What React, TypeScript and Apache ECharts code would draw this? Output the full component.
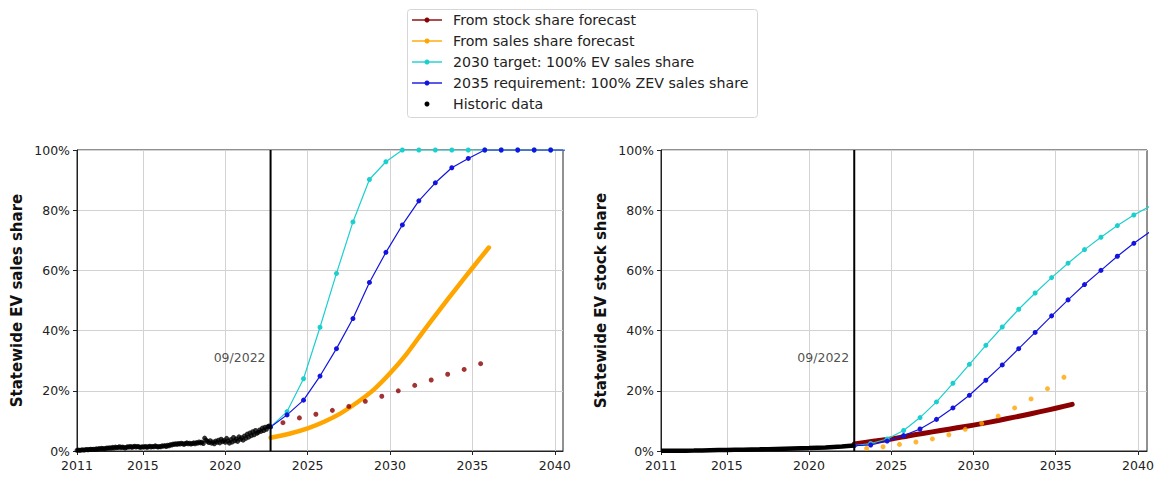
import React, { useEffect, useRef } from "react";
import * as echarts from "echarts";

// ---- Shared axis ticks ----
const xTicks = [2011, 2015, 2020, 2025, 2030, 2035, 2040];
const cutoffYear = 2022.75;
const cutoffLabel = "09/2022";

// ---- Historic monthly EV sales share (Jan 2011 – Sep 2022), % ----
const salesHistoric = [
  0.2, 0.3, 0.2, 0.3, 0.4, 0.3, 0.4, 0.5, 0.4, 0.5, 0.6, 0.5,
  0.6, 0.5, 0.7, 0.6, 0.8, 0.7, 0.9, 0.8, 0.7, 0.9, 1.0, 0.9,
  1.1, 0.9, 1.2, 1.0, 1.3, 1.1, 1.2, 1.4, 1.1, 1.3, 1.2, 1.0,
  1.2, 1.4, 1.3, 1.5, 1.2, 1.4, 1.6, 1.3, 1.5, 1.4, 1.2, 1.3,
  1.4, 1.3, 1.5, 1.2, 1.4, 1.6, 1.3, 1.5, 1.4, 1.7, 1.5, 1.3,
  1.5, 1.4, 1.7, 1.6, 1.8, 1.5, 1.9, 1.7, 2.1, 2.0, 2.3, 2.2,
  2.4, 2.2, 2.5, 2.3, 2.6, 2.4, 2.2, 2.5, 2.7, 2.4, 2.6, 2.3,
  2.5, 2.7, 2.4, 2.8, 2.6, 3.0, 2.7, 2.9, 2.5, 4.3, 3.6, 3.2,
  2.8, 3.4, 2.6, 3.0, 2.4, 3.3, 2.9, 3.6, 2.7, 3.9, 3.1, 3.5,
  2.9, 4.2, 3.3, 2.6, 3.8, 3.0, 4.5, 3.4, 4.0, 3.2, 4.7, 3.9,
  4.4, 3.6, 5.0, 4.2, 5.6, 4.6, 6.0, 5.1, 6.4, 5.4, 6.8, 5.9,
  6.2, 7.0, 6.5, 7.6, 6.8, 7.9, 7.2, 8.1, 8.3,
];

// ---- Historic EV stock share, % ----
const stockHistoricYears = [2011, 2012, 2013, 2014, 2015, 2016, 2017, 2018, 2019, 2020, 2021, 2022, 2022.75];
const stockHistoric = [0.05, 0.1, 0.15, 0.25, 0.35, 0.45, 0.55, 0.7, 0.85, 1.0, 1.2, 1.5, 1.8];

// ---- Scenario years ----
const scenarioYears = [
  2022.75, 2023.75, 2024.75, 2025.75, 2026.75, 2027.75, 2028.75, 2029.75, 2030.75, 2031.75,
  2032.75, 2033.75, 2034.75, 2035.75, 2036.75, 2037.75, 2038.75, 2039.75, 2040.75,
];
const dotYears = [2023.5, 2024.5, 2025.5, 2026.5, 2027.5, 2028.5, 2029.5, 2030.5, 2031.5, 2032.5, 2033.5, 2034.5, 2035.5];
const curveYears = [2022.75, 2024, 2025, 2026, 2027, 2028, 2029, 2030, 2031, 2032, 2033, 2034, 2035, 2036];

// ---- Sales share panel, % ----
const salesTarget2030 = [8, 13.1, 24, 41.1, 59, 76.1, 90.2, 96.1, 100, 100, 100, 100, 100, 100, 100, 100, 100, 100, 100];
const salesReq2035 = [8, 12, 16.9, 24.9, 34, 44, 56, 66, 75.1, 83.1, 89.1, 94.1, 97.2, 100, 100, 100, 100, 100, 100];
const salesFromStock = [9.4, 11.0, 12.2, 13.5, 14.8, 16.5, 18.2, 20, 21.8, 23.6, 25.5, 27.1, 29.0];
const salesFromSales = [4.4, 5.9, 7.5, 9.7, 12.5, 16.1, 20.3, 25.8, 32.2, 39.6, 46.8, 53.9, 60.8, 67.6];

// ---- Stock share panel, % ----
const stockTarget2030 = [1.8, 2.5, 4.0, 6.8, 11.1, 16.3, 22.5, 28.8, 35.1, 41.2, 47.1, 52.5, 57.6, 62.4, 66.9, 71, 74.9, 78.4, 81.4];
const stockReq2035 = [1.8, 2.0, 3.3, 5.1, 7.3, 10.5, 14.3, 18.5, 23.5, 28.6, 34, 39.4, 44.9, 50.2, 55.3, 60, 64.7, 69, 72.9];
const stockFromSales = [0.9, 1.4, 2.2, 3.0, 4.0, 5.4, 7.2, 9.2, 11.6, 14.3, 17.3, 20.7, 24.5];
const stockFromStock = [2.3, 3.3, 4.0, 5.0, 5.9, 6.8, 7.7, 8.6, 9.6, 10.7, 11.8, 13.0, 14.2, 15.5];

const legendItems = [
  { name: "From stock share forecast", color: "#8b0000", line: true },
  { name: "From sales share forecast", color: "#ffa500", line: true },
  { name: "2030 target: 100% EV sales share", color: "#1ccfcf", line: true },
  { name: "2035 requirement: 100% ZEV sales share", color: "#1414e0", line: true },
  { name: "Historic data", color: "#000000", line: false },
];

const FONT = "DejaVu Sans";
const INK = "#222";
const COLORS = { stock: "#8b0000", sales: "#ffa500", target: "#1ccfcf", req: "#1414e0" };

const pairs = (xs: number[], ys: number[]) => ys.map((y, i) => [xs[i], y]);

function makeXAxis(gridIndex: number, max: number) {
  return {
    type: "value",
    gridIndex,
    min: 2011,
    max,
    axisLine: { show: true, lineStyle: { color: INK, width: 1 } },
    axisTick: { show: true, customValues: xTicks, length: 4, lineStyle: { color: INK } },
    axisLabel: {
      customValues: xTicks,
      fontSize: 12.5,
      fontFamily: FONT,
      color: INK,
      margin: 8,
      formatter: (v: number) => String(v),
    },
    splitLine: { show: true, lineStyle: { color: "#d2d2d2", width: 1 } },
  };
}

function makeYAxis(gridIndex: number, name: string) {
  return {
    type: "value",
    gridIndex,
    min: 0,
    max: 100,
    interval: 20,
    name,
    nameLocation: "middle",
    nameGap: 53,
    nameTextStyle: { fontSize: 15, fontWeight: "bold", fontFamily: FONT, color: "#111" },
    axisLine: { show: true, lineStyle: { color: INK, width: 1 } },
    axisTick: { show: true, length: 4, lineStyle: { color: INK } },
    axisLabel: { fontSize: 12.5, fontFamily: FONT, color: INK, margin: 7, formatter: "{value}%" },
    splitLine: { show: true, lineStyle: { color: "#d2d2d2", width: 1 } },
  };
}

function markerLine(idx: number, y: number) {
  return [
    {
      type: "line",
      xAxisIndex: idx,
      yAxisIndex: idx,
      data: [[cutoffYear, 0], [cutoffYear, 100]],
      symbol: "none",
      lineStyle: { color: "#000", width: 2 },
      z: 5,
    },
    {
      type: "scatter",
      xAxisIndex: idx,
      yAxisIndex: idx,
      data: [[cutoffYear, y]],
      symbolSize: 0,
      label: {
        show: true,
        position: "left",
        distance: 5,
        formatter: cutoffLabel,
        fontSize: 12.5,
        fontFamily: FONT,
        color: INK,
      },
      z: 6,
    },
  ];
}

function dotSeries(idx: number, xs: number[], ys: number[], color: string, size = 5) {
  return {
    type: "scatter",
    xAxisIndex: idx,
    yAxisIndex: idx,
    data: pairs(xs, ys),
    symbol: "circle",
    symbolSize: size,
    itemStyle: { color },
    z: 3,
  };
}

function markedLine(idx: number, ys: number[], color: string) {
  return {
    type: "line",
    xAxisIndex: idx,
    yAxisIndex: idx,
    data: pairs(scenarioYears, ys),
    symbol: "circle",
    symbolSize: 5,
    showSymbol: true,
    lineStyle: { color, width: 1.2 },
    itemStyle: { color },
    z: 4,
  };
}

function thickLine(idx: number, xs: number[], ys: number[], color: string, width: number) {
  return {
    type: "line",
    xAxisIndex: idx,
    yAxisIndex: idx,
    data: pairs(xs, ys),
    symbol: "none",
    smooth: 0.2,
    lineStyle: { color, width, cap: "round", join: "round" },
    z: 3,
  };
}

function legendGraphic() {
  const children: any[] = [
    {
      type: "rect",
      shape: { x: 407.5, y: 9.5, width: 350, height: 108, r: 3 },
      style: { fill: "#fff", stroke: "#d6d6d6", lineWidth: 1 },
    },
  ];
  legendItems.forEach((item, i) => {
    const y = 20 + 21 * i;
    if (item.line) {
      children.push({
        type: "line",
        shape: { x1: 412, y1: y, x2: 442, y2: y },
        style: { stroke: item.color, lineWidth: 1.4 },
      });
    }
    children.push({
      type: "circle",
      shape: { cx: 427, cy: y, r: 2.5 },
      style: { fill: item.color },
    });
    children.push({
      type: "text",
      x: 453,
      y,
      style: {
        text: item.name,
        fontSize: 14.2,
        fontFamily: FONT,
        fill: INK,
        verticalAlign: "middle",
      },
    });
  });
  return [{ type: "group", children }];
}

export default function App() {
  const ref = useRef<HTMLDivElement>(null);

  useEffect(() => {
    if (!ref.current) return;
    const chart = echarts.init(ref.current, undefined, { renderer: "svg" });
    const histDates = salesHistoric.map((_, i) => 2011 + i / 12);

    chart.setOption({
      animation: false,
      backgroundColor: "#fff",
      textStyle: { fontFamily: FONT },
      grid: [
        { left: 77, top: 150, width: 486, height: 301, show: true, borderColor: INK, borderWidth: 1, backgroundColor: "transparent" },
        { left: 661, top: 150, width: 486, height: 301, show: true, borderColor: INK, borderWidth: 1, backgroundColor: "transparent" },
      ],
      xAxis: [makeXAxis(0, 2040.5), makeXAxis(1, 2040.55)],
      yAxis: [makeYAxis(0, "Statewide EV sales share"), makeYAxis(1, "Statewide EV stock share")],
      graphic: legendGraphic(),
      series: [
        // Sales share panel
        dotSeries(0, dotYears, salesFromStock, COLORS.stock),
        thickLine(0, curveYears, salesFromSales, COLORS.sales, 4.5),
        markedLine(0, salesTarget2030, COLORS.target),
        markedLine(0, salesReq2035, COLORS.req),
        {
          type: "scatter",
          xAxisIndex: 0,
          yAxisIndex: 0,
          data: pairs(histDates, salesHistoric),
          symbol: "circle",
          symbolSize: 5,
          itemStyle: { color: "#000" },
          z: 5,
        },
        ...markerLine(0, 31.2),

        // Stock share panel
        thickLine(1, curveYears, stockFromStock, COLORS.stock, 5),
        dotSeries(1, dotYears, stockFromSales, COLORS.sales),
        markedLine(1, stockTarget2030, COLORS.target),
        markedLine(1, stockReq2035, COLORS.req),
        {
          type: "line",
          xAxisIndex: 1,
          yAxisIndex: 1,
          data: pairs(stockHistoricYears, stockHistoric),
          symbol: "none",
          smooth: 0.2,
          lineStyle: { color: "#000", width: 4.5 },
          z: 5,
        },
        ...markerLine(1, 31.2),
      ],
    });

    return () => chart.dispose();
  }, []);

  return (
    <div
      ref={ref}
      style={{ position: "fixed", left: 0, top: 0, width: 1159, height: 477, background: "#fff" }}
    />
  );
}
